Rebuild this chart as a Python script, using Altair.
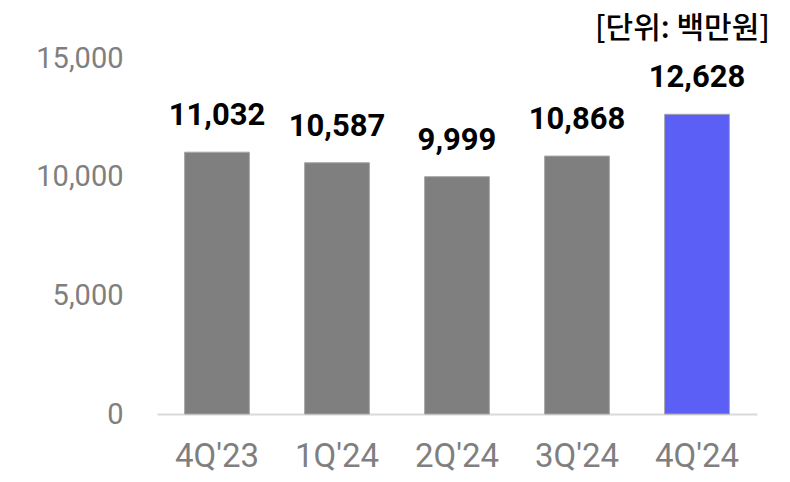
import altair as alt
import pandas as pd

quarters = ["4Q'23", "1Q'24", "2Q'24", "3Q'24", "4Q'24"]
values = [11032, 10587, 9999, 10868, 12628]
highlight = [False, False, False, False, True]
y_ticks = [0, 5000, 10000, 15000]

df = pd.DataFrame({"q": quarters, "v": values, "hl": highlight})
df["label"] = df["v"].map(lambda v: f"{v:,}")

x = alt.X("q:N", sort=quarters, title=None,
          scale=alt.Scale(paddingInner=0.46, paddingOuter=0.23),
          axis=alt.Axis(labelAngle=0, labelFont="Roboto",
                        labelFontSize=33, labelColor="#7f7f7f", labelPadding=26,
                        ticks=False, domainColor="#d9d9d9", domainWidth=2))
y = alt.Y("v:Q", title=None, scale=alt.Scale(domain=[0, 15000], nice=False),
          axis=alt.Axis(values=y_ticks, format=",.0f", labelFont="Roboto", labelFontSize=29,
                        labelColor="#7f7f7f", labelPadding=34, grid=False, ticks=False,
                        domain=False, minExtent=140, maxExtent=140))

bars = alt.Chart(df).mark_bar(stroke="#a6a6a6", strokeWidth=1).encode(
    x=x, y=y,
    color=alt.Color("hl:N", scale=alt.Scale(domain=[False, True], range=["#7f7f7f", "#5b5ff5"]), legend=None),
)
labels = alt.Chart(df).mark_text(font="Roboto", fontWeight="bold", fontSize=31, color="#000000",
                                  baseline="alphabetic", dy=-27).encode(
    x=alt.X("q:N", sort=quarters), y="v:Q", text="label:N")

chart = alt.layer(bars, labels).properties(
    width=600, height=356,
    title=alt.TitleParams("[단위: 백만원]", anchor="end", frame="group", font="Noto Sans CJK KR",
                          fontSize=30, fontWeight=500, color="#000000", dx=13, offset=0),
    padding={"left": 9, "top": 6, "right": 5, "bottom": 5},
).configure_view(stroke=None)

chart.save("out.html", embed_options={"renderer": "svg", "actions": False})
